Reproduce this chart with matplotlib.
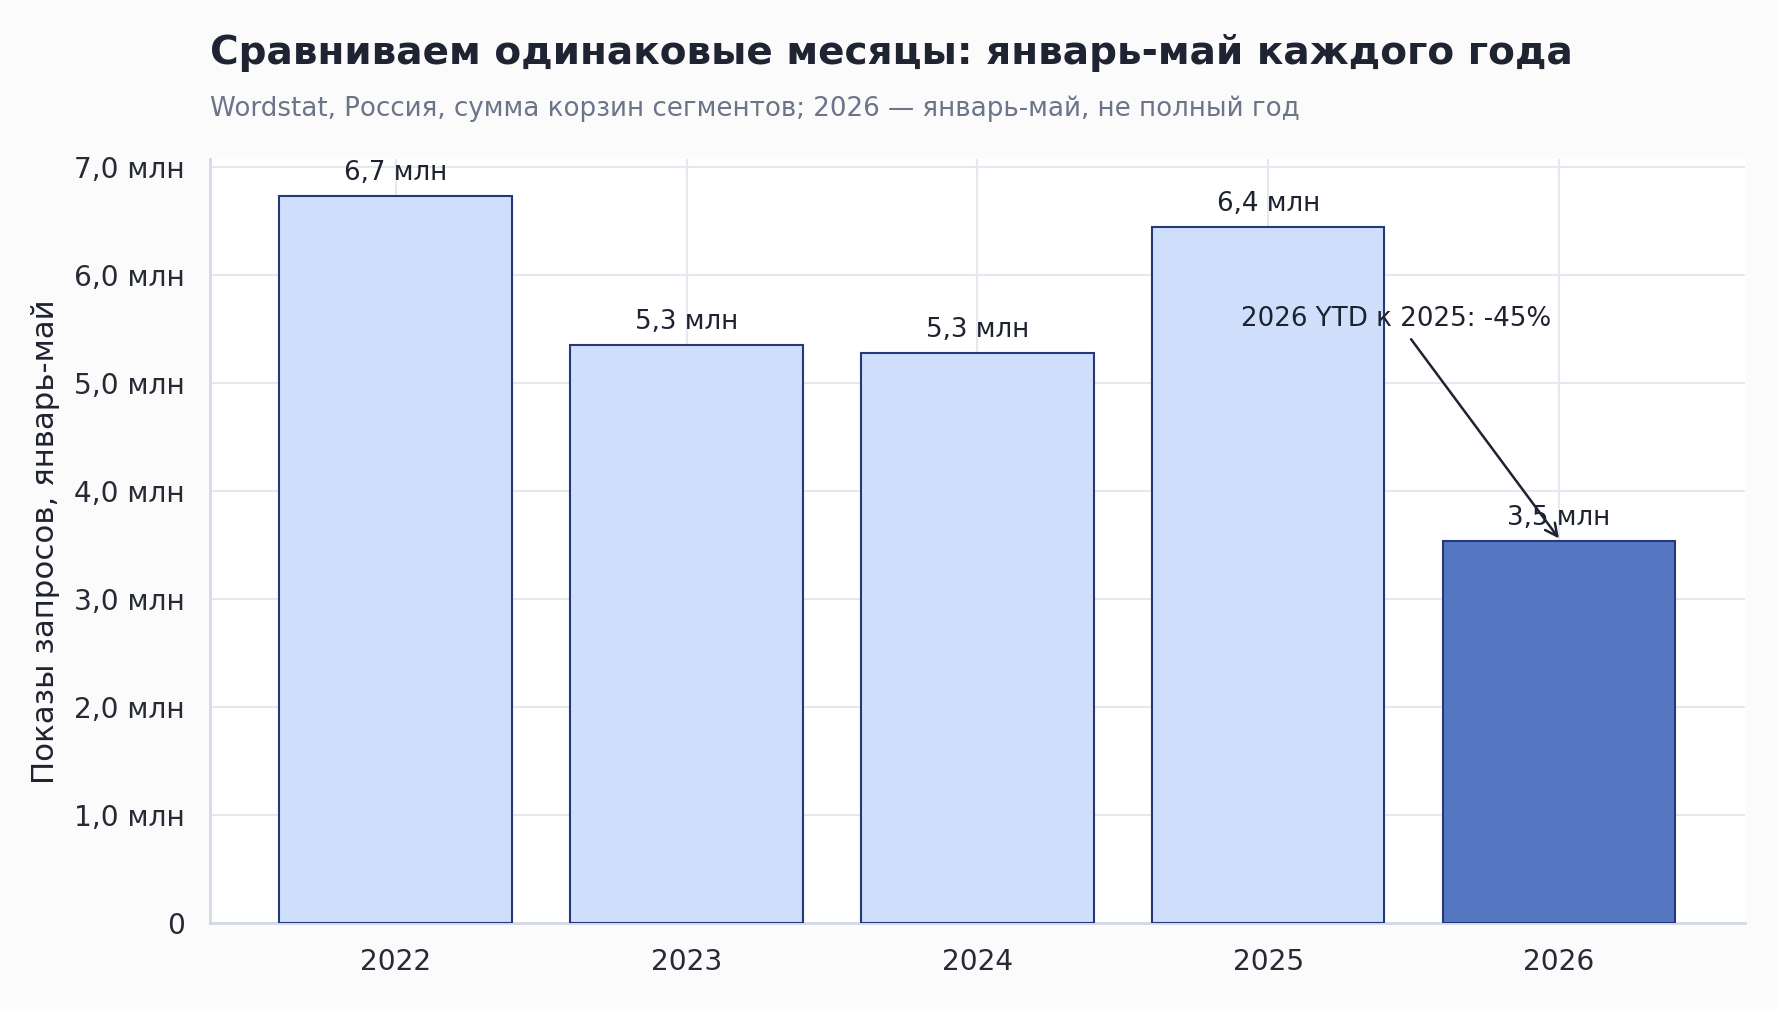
import matplotlib
matplotlib.use("Agg")
import matplotlib.pyplot as plt
from matplotlib.ticker import FuncFormatter

years = ["2022", "2023", "2024", "2025", "2026"]
values = [6.73, 5.35, 5.28, 6.44, 3.54]  # млн показов, январь-май
labels = ["6,7 млн", "5,3 млн", "5,3 млн", "6,4 млн", "3,5 млн"]
change_text = "2026 YTD к 2025: -45%"

title = "Сравниваем одинаковые месяцы: январь-май каждого года"
subtitle = "Wordstat, Россия, сумма корзин сегментов; 2026 — январь-май, не полный год"

plt.rcParams["font.family"] = ["DejaVu Sans"]

fig = plt.figure(figsize=(17.77, 10.09), dpi=100, facecolor="#fbfbfc")
ax = fig.add_axes([0.118, 0.085, 0.864, 0.757])
ax.set_facecolor("white")

colors = ["#cfdffb"] * 4 + ["#5577c2"]
bars = ax.bar(range(len(years)), values, width=0.8, color=colors,
              edgecolor="#23397a", linewidth=1.5, zorder=3)

for i, (v, lab) in enumerate(zip(values, labels)):
    ax.annotate(lab, (i, v), xytext=(0, 7), textcoords="offset points",
                ha="center", va="bottom", fontsize=18.8, color="#1f2230", zorder=5)

ax.annotate(change_text, xy=(4, values[4] + 0.02), xytext=(3.44, 5.59),
            ha="center", va="center", fontsize=18.8, color="#1f2230",
            arrowprops=dict(arrowstyle="->", color="#1f2230", lw=1.8,
                            shrinkA=4, shrinkB=0, mutation_scale=22),
            zorder=6)

ax.set_ylim(0, max(values) * 1.05)
ax.set_xticks(range(len(years)))
ax.set_xticklabels(years)
ax.yaxis.set_major_formatter(FuncFormatter(
    lambda y, _: "0" if y == 0 else f"{y:.1f}".replace(".", ",") + " млн"))

ax.grid(True, color="#e6e8f0", linewidth=1.5, zorder=0)
ax.set_axisbelow(True)
for s in ["top", "right"]:
    ax.spines[s].set_visible(False)
for s in ["left", "bottom"]:
    ax.spines[s].set_color("#d4d9e7")
    ax.spines[s].set_linewidth(2)
ax.tick_params(axis="both", length=0, labelsize=20.2, colors="#262a35")
ax.tick_params(axis="x", pad=18)
ax.tick_params(axis="y", pad=18)
ax.set_ylabel("Показы запросов, январь-май", fontsize=22.2, color="#1f2230", labelpad=10)

fig.text(0.118, 0.947, title, fontsize=28.1, fontweight="bold", color="#1f2433",
         ha="left", va="center")
fig.text(0.118, 0.892, subtitle, fontsize=18.8, color="#6b7488",
         ha="left", va="center")

fig.savefig("out.png", dpi=100, facecolor=fig.get_facecolor())
